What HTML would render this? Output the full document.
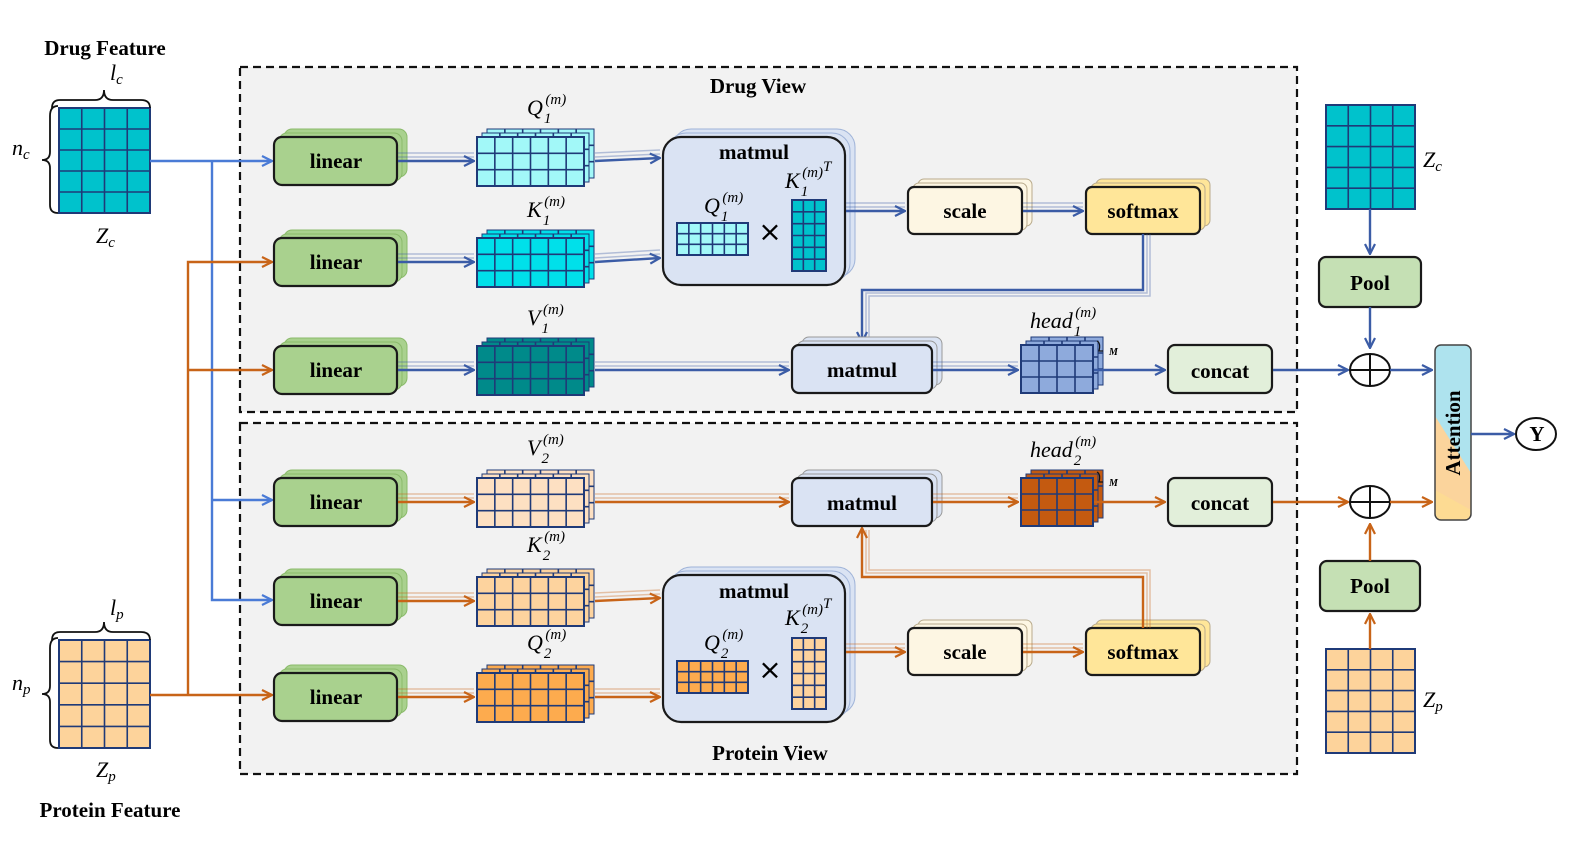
<!DOCTYPE html>
<html><head><meta charset="utf-8"><style>
html,body{margin:0;padding:0;background:#fff;width:1578px;height:845px;overflow:hidden}
svg{display:block}
.b{font-family:"Liberation Serif",serif;font-weight:bold;font-size:21px;text-anchor:middle}
.m{font-family:"Liberation Serif",serif;font-style:italic;font-size:22px}
.s{font-family:"Liberation Serif",serif;font-style:italic;font-size:15px}
.n{font-family:"Liberation Serif",serif;font-size:15px}
</style></head><body>
<svg id="S" width="1578" height="845" viewBox="0 0 1578 845" xmlns="http://www.w3.org/2000/svg">
<defs>
<marker id="ab" viewBox="0 0 12 12" refX="11" refY="6" markerWidth="12" markerHeight="12" markerUnits="userSpaceOnUse" orient="auto"><path d="M1,1 L11,6 L1,11" fill="none" stroke="#3b5ca6" stroke-width="2.2"/></marker>
<marker id="al" viewBox="0 0 12 12" refX="11" refY="6" markerWidth="12" markerHeight="12" markerUnits="userSpaceOnUse" orient="auto"><path d="M1,1 L11,6 L1,11" fill="none" stroke="#4a7bd6" stroke-width="2.2"/></marker>
<marker id="ao" viewBox="0 0 12 12" refX="11" refY="6" markerWidth="12" markerHeight="12" markerUnits="userSpaceOnUse" orient="auto"><path d="M1,1 L11,6 L1,11" fill="none" stroke="#c86418" stroke-width="2.2"/></marker>
<clipPath id="attc"><rect x="1435" y="345" width="36" height="175" rx="6"/></clipPath>
</defs>
<rect x="240" y="67" width="1057" height="345" fill="#f2f2f2" stroke="#111" stroke-width="2.2" stroke-dasharray="8,5"/>
<rect x="240" y="423" width="1057" height="351" fill="#f2f2f2" stroke="#111" stroke-width="2.2" stroke-dasharray="8,5"/>
<g id="G"></g>
<text class="b" x="105" y="55">Drug Feature</text>
<text class="b" x="110" y="817">Protein Feature</text>
<text class="b" x="758" y="93">Drug View</text>
<text class="b" x="770" y="760">Protein View</text>
<text class="m" x="110" y="80">l<tspan class="s" dy="4">c</tspan></text>
<text class="m" x="12" y="155">n<tspan class="s" dy="4">c</tspan></text>
<text class="m" x="96" y="243">Z<tspan class="s" dy="4">c</tspan></text>
<text class="m" x="110" y="615">l<tspan class="s" dy="4">p</tspan></text>
<text class="m" x="12" y="690">n<tspan class="s" dy="4">p</tspan></text>
<text class="m" x="96" y="777">Z<tspan class="s" dy="4">p</tspan></text>
<text class="m" x="1423" y="167">Z<tspan class="s" dy="4">c</tspan></text>
<text class="m" x="1423" y="707">Z<tspan class="s" dy="4">p</tspan></text>
<g class="b">
<text x="336" y="168">linear</text><text x="336" y="269">linear</text><text x="336" y="377">linear</text>
<text x="336" y="509">linear</text><text x="336" y="608">linear</text><text x="336" y="704">linear</text>
<text x="754" y="159">matmul</text><text x="754" y="598">matmul</text>
<text x="862" y="377">matmul</text><text x="862" y="510">matmul</text>
<text x="965" y="218">scale</text><text x="1143" y="218">softmax</text>
<text x="965" y="659">scale</text><text x="1143" y="659">softmax</text>
<text x="1220" y="378">concat</text><text x="1220" y="510">concat</text>
<text x="1370" y="290">Pool</text><text x="1370" y="593">Pool</text>
<text x="1537" y="441">Y</text>
<text transform="translate(1460,433) rotate(-90)">Attention</text>
</g>
<g class="m">
<text x="527" y="115">Q<tspan class="s" dx="1" dy="8">1</tspan><tspan class="n" dx="-6" dy="-19">(m)</tspan></text>
<text x="527" y="217">K<tspan class="s" dx="1" dy="8">1</tspan><tspan class="n" dx="-6" dy="-19">(m)</tspan></text>
<text x="527" y="325">V<tspan class="s" dx="1" dy="8">1</tspan><tspan class="n" dx="-6" dy="-19">(m)</tspan></text>
<text x="527" y="455">V<tspan class="s" dx="1" dy="8">2</tspan><tspan class="n" dx="-6" dy="-19">(m)</tspan></text>
<text x="527" y="552">K<tspan class="s" dx="1" dy="8">2</tspan><tspan class="n" dx="-6" dy="-19">(m)</tspan></text>
<text x="527" y="650">Q<tspan class="s" dx="1" dy="8">2</tspan><tspan class="n" dx="-6" dy="-19">(m)</tspan></text>
<text x="704" y="213">Q<tspan class="s" dx="1" dy="8">1</tspan><tspan class="n" dx="-6" dy="-19">(m)</tspan></text>
<text x="785" y="188">K<tspan class="s" dx="1" dy="8">1</tspan><tspan class="n" dx="-6" dy="-19">(m)</tspan><tspan class="s" dy="-6">T</tspan></text>
<text x="704" y="650">Q<tspan class="s" dx="1" dy="8">2</tspan><tspan class="n" dx="-6" dy="-19">(m)</tspan></text>
<text x="785" y="625">K<tspan class="s" dx="1" dy="8">2</tspan><tspan class="n" dx="-6" dy="-19">(m)</tspan><tspan class="s" dy="-6">T</tspan></text>
<text x="1030" y="328">head<tspan class="s" dx="1" dy="8">1</tspan><tspan class="n" dx="-6" dy="-19">(m)</tspan></text>
<text x="1030" y="457">head<tspan class="s" dx="1" dy="8">2</tspan><tspan class="n" dx="-6" dy="-19">(m)</tspan></text>
</g>
<text class="s" x="1109" y="355" style="font-size:10px;font-weight:bold">M</text>
<text class="s" x="1109" y="486" style="font-size:10px;font-weight:bold">M</text>
<text x="770" y="241" style="font-size:28px;text-anchor:middle;font-family:'DejaVu Sans',sans-serif">×</text>
<text x="770" y="679" style="font-size:28px;text-anchor:middle;font-family:'DejaVu Sans',sans-serif">×</text>
</svg>
<script>
var G=document.getElementById('G'),h='';
function grid(x,y,w,H,c,r,f,sw){h+='<rect x="'+x+'" y="'+y+'" width="'+w+'" height="'+H+'" fill="'+f+'" stroke="#1f3a78" stroke-width="'+(sw||2)+'"/>';
for(var i=1;i<c;i++){var xx=x+w*i/c;h+='<line x1="'+xx+'" y1="'+y+'" x2="'+xx+'" y2="'+(y+H)+'" stroke="#1f3a78" stroke-width="1.6"/>';}
for(var j=1;j<r;j++){var yy=y+H*j/r;h+='<line x1="'+x+'" y1="'+yy+'" x2="'+(x+w)+'" y2="'+yy+'" stroke="#1f3a78" stroke-width="1.6"/>';}}
function sgrid(x,y,w,H,c,r,f){grid(x+10,y-8,w,H,c,r,f,1);grid(x+5,y-4,w,H,c,r,f,1);grid(x,y,w,H,c,r,f);}
function box(x,y,w,H,f,rx,st,sc){rx=rx||7;if(st){for(var k=2;k>=1;k--)h+='<rect x="'+(x+5*k)+'" y="'+(y-4*k)+'" width="'+w+'" height="'+H+'" rx="'+rx+'" fill="'+f+'" stroke="'+(sc||'#999')+'" stroke-width="1"/>';}
h+='<rect x="'+x+'" y="'+y+'" width="'+w+'" height="'+H+'" rx="'+rx+'" fill="'+f+'" stroke="#1a1a1a" stroke-width="2.2"/>';}
function ln(p,c,m,w){h+='<path d="'+p+'" fill="none" stroke="'+c+'" stroke-width="'+(w||2.4)+'"'+(m?' marker-end="url(#'+m+')"':'')+'/>';}
function ghost(p,c){h+='<path d="'+p+'" fill="none" stroke="'+c+'" stroke-width="1.5" opacity="0.35" transform="translate(0,-4)"/><path d="'+p+'" fill="none" stroke="'+c+'" stroke-width="1.5" opacity="0.35" transform="translate(0,-8)"/>';}
var B='#3b5ca6',L='#4a7bd6',O='#c86418';
grid(59,108,91,105,4,5,'#00c2cc');grid(59,640,91,108,4,5,'#fdd39b');
ln('M52,108 Q52,100 60,100 L95,100 Q104,100 104,90 Q104,100 113,100 L141,100 Q150,100 150,108','#111','',1.8);
ln('M58,106 Q50,106 50,116 L50,152 Q50,160 42,160 Q50,160 50,168 L50,205 Q50,213 58,213','#111','',1.8);
ln('M52,640 Q52,632 60,632 L95,632 Q104,632 104,622 Q104,632 113,632 L141,632 Q150,632 150,640','#111','',1.8);
ln('M58,638 Q50,638 50,648 L50,686 Q50,694 42,694 Q50,694 50,702 L50,740 Q50,748 58,748','#111','',1.8);
ln('M150,161 L272,161',L,'al');ln('M212,161 L212,600 L272,600',L,'al');ln('M212,500 L272,500',L,'al');
ln('M150,695 L272,695',O,'ao');ln('M188,695 L188,262 L272,262',O,'ao');ln('M188,370 L272,370',O,'ao');
[161,262,370,502,601,697].forEach(function(c){box(274,c-24,123,48,'#a9d18e',8,true,'#8aba6a');});
var rows=[[161,'#a2f8f8',B],[262,'#00e0ea',B],[370,'#008a8a',B],[502,'#fde0c2',O],[601,'#fdd39e',O],[697,'#fdab4e',O]];
rows.forEach(function(r){var c=r[0],col=r[2];ghost('M398,'+c+' L474,'+c,col);ln('M398,'+c+' L474,'+c,col,col==B?'ab':'ao');sgrid(477,c-24,107,49,6,3,r[1]);});
box(663,137,182,148,'#dae3f3',18,true,'#9fb3d8');
grid(677,223,71,32,6,3,'#a2f8f8');grid(792,200,34,71,3,6,'#00c2cc');
box(663,575,182,147,'#dae3f3',18,true,'#9fb3d8');
grid(677,661,71,32,6,3,'#fdab4e');grid(792,638,34,71,3,6,'#fdd39e');
[[161,B,'ab',158],[262,B,'ab',258],[601,O,'ao',598],[697,O,'ao',697]].forEach(function(a){ghost('M595,'+a[0]+' L660,'+a[3],a[1]);ln('M595,'+a[0]+' L660,'+a[3],a[1],a[2]);});
box(908,187,114,47,'#fdf6e3',6,true,'#b9ab8c');box(1086,187,114,47,'#ffe699',6,true,'#b9ab8c');
box(908,628,114,47,'#fdf6e3',6,true,'#b9ab8c');box(1086,628,114,47,'#ffe699',6,true,'#b9ab8c');
ghost('M846,211 L905,211',B);ln('M846,211 L905,211',B,'ab');ghost('M1023,211 L1083,211',B);ln('M1023,211 L1083,211',B,'ab');
ghost('M846,652 L905,652',O);ln('M846,652 L905,652',O,'ao');ghost('M1023,652 L1083,652',O);ln('M1023,652 L1083,652',O,'ao');
h+='<path d="M1150,234 L1150,296 L869,296 L869,340" fill="none" stroke="'+B+'" stroke-width="1.5" opacity="0.35"/><path d="M1147,234 L1147,293 L866,293 L866,340" fill="none" stroke="'+B+'" stroke-width="1.5" opacity="0.35"/>';
ln('M1143,234 L1143,290 L862,290 L862,342',B,'ab');
h+='<path d="M1150,628 L1150,570 L869,570 L869,530" fill="none" stroke="'+O+'" stroke-width="1.5" opacity="0.35"/><path d="M1147,628 L1147,573 L866,573 L866,530" fill="none" stroke="'+O+'" stroke-width="1.5" opacity="0.35"/>';
ln('M1143,628 L1143,577 L862,577 L862,528',O,'ao');
ghost('M595,370 L789,370',B);ln('M595,370 L789,370',B,'ab');ghost('M595,502 L789,502',O);ln('M595,502 L789,502',O,'ao');
box(792,345,140,48,'#dae3f3',7,true,'#999');box(792,478,140,48,'#dae3f3',7,true,'#999');
ghost('M933,370 L1018,370',B);ln('M933,370 L1018,370',B,'ab');ghost('M933,502 L1018,502',O);ln('M933,502 L1018,502',O,'ao');
sgrid(1021,345,72,48,4,3,'#8eaadc');sgrid(1021,478,72,48,4,3,'#c45a10');
ln('M1097,341 q4,2 2,10 l4,0','#111','',1.2);ln('M1097,472 q4,2 2,10 l4,0','#111','',1.2);
ln('M1094,370 L1165,370',B,'ab');ln('M1094,502 L1165,502',O,'ao');
box(1168,345,104,48,'#e2efda',7);box(1168,478,104,48,'#e2efda',7);
ln('M1273,370 L1348,370',B,'ab');ln('M1273,502 L1348,502',O,'ao');
grid(1326,105,89,104,4,5,'#00c2cc');grid(1326,649,89,104,4,5,'#fdd39b');
ln('M1370,209 L1370,254',B,'ab');box(1319,257,102,50,'#c5e0b4',7);ln('M1370,307 L1370,348',B,'ab');
ln('M1370,649 L1370,614',O,'ao');box(1320,561,100,50,'#c5e0b4',7);ln('M1370,561 L1370,524',O,'ao');
[370,502].forEach(function(y){h+='<ellipse cx="1370" cy="'+y+'" rx="20" ry="16" fill="#fff" stroke="#111" stroke-width="2"/><path d="M1350,'+y+' L1390,'+y+' M1370,'+(y-16)+' L1370,'+(y+16)+'" stroke="#111" stroke-width="2"/>';});
ln('M1390,370 L1432,370',B,'ab');ln('M1390,502 L1432,502',O,'ao');
h+='<g clip-path="url(#attc)"><rect x="1435" y="345" width="36" height="175" fill="#aee3ee"/><polygon points="1435,416 1471,473 1471,520 1435,520" fill="#fbd49c"/><polygon points="1435,490 1471,510 1471,520 1435,520" fill="#ffe08e" opacity="0.6"/></g>';
h+='<rect x="1435" y="345" width="36" height="175" rx="6" fill="none" stroke="#444" stroke-width="1.5"/>';
ln('M1471,434 L1514,434',B,'ab');
h+='<ellipse cx="1536" cy="434" rx="20" ry="16" fill="#fff" stroke="#111" stroke-width="2"/>';
G.innerHTML=h;
</script>
</body></html>
